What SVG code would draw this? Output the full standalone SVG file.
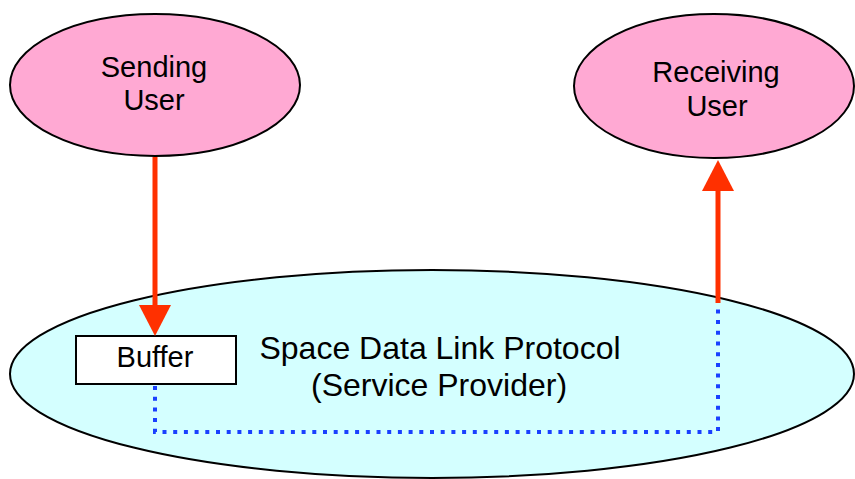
<svg xmlns="http://www.w3.org/2000/svg" width="855" height="479" viewBox="0 0 855 479">
<style>
.user{fill:#ffa9d3;stroke:#000;stroke-width:2}
.prov{fill:#d4ffff;stroke:#000;stroke-width:2}
.buf{fill:#fff;stroke:#000;stroke-width:2}
.t{font-family:"Liberation Sans",Arial,sans-serif;fill:#000;text-anchor:middle}
.red{fill:none;stroke:#ff3000;stroke-width:5}
.dot{fill:none;stroke:#1a40ff;stroke-width:4;stroke-dasharray:4 6.7}
</style>
<defs>
<marker id="ah" markerUnits="userSpaceOnUse" markerWidth="32" markerHeight="32" refX="0" refY="16" orient="auto" viewBox="0 0 32 32">
<path d="M0,0 L31,16 L0,32 z" fill="#ff3000"/>
</marker>
</defs>
<rect width="855" height="479" fill="#fff"/>
<g id="provider">
<ellipse class="prov" cx="432" cy="374" rx="422" ry="104"/>
<text class="t" x="440" y="359" font-size="32">Space Data Link Protocol</text>
<text class="t" x="439" y="396" font-size="32">(Service Provider)</text>
</g>
<g id="sending">
<ellipse class="user" cx="155" cy="85" rx="145" ry="71"/>
<text class="t" x="154" y="77" font-size="29">Sending</text>
<text class="t" x="154" y="110" font-size="29">User</text>
</g>
<g id="receiving">
<ellipse class="user" cx="714" cy="86" rx="140" ry="72"/>
<text class="t" x="716" y="82" font-size="29">Receiving</text>
<text class="t" x="717" y="116" font-size="29">User</text>
</g>
<g id="buffer">
<rect class="buf" x="76" y="336" width="160" height="48"/>
<text class="t" x="155" y="367" font-size="29">Buffer</text>
</g>
<g id="connectors">
<path class="red" d="M155,157 L155,305" marker-end="url(#ah)"/>
<path class="red" d="M718,303 L718,191" marker-end="url(#ah)"/>
<path class="dot" d="M155,386 L155,432 L718,432 L718,303"/>
</g>
</svg>
